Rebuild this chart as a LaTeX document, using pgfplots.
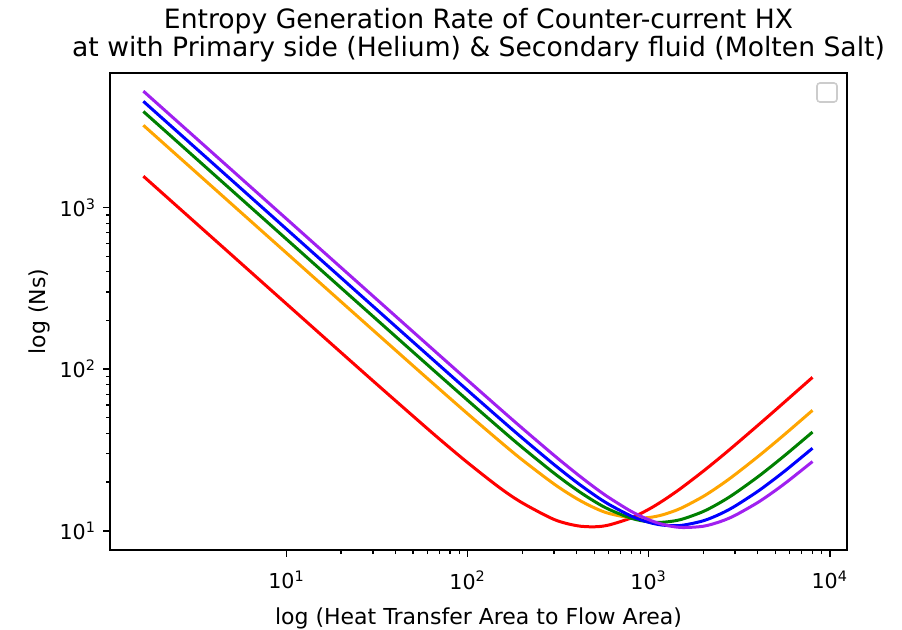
\documentclass[border=0pt]{standalone}
\usepackage{fontspec}
\setmainfont{DejaVu Sans}
\usepackage{pgfplots}
\pgfplotsset{compat=1.18}
\definecolor{mplorange}{HTML}{FFA500}
\definecolor{mplgreen}{HTML}{008000}
\definecolor{mplpurple}{RGB}{160,32,240}
\begin{document}
\begin{tikzpicture}
\begin{axis}[
  scale only axis,
  width=368.5pt, height=238.5pt,
  xmode=log, ymode=log,
  xmin=1.06, xmax=12450,
  ymin=7.6, ymax=6800,
  axis line style={line width=0.8pt},
  tick align=outside,
  tick pos=left,
  major tick length=3.5pt,
  minor tick length=2pt,
  every tick/.style={black, line width=0.8pt},
  minor tick style={line width=0.6pt},
  xtick={10,100,1000,10000},
  xticklabels={10\textsuperscript{1},10\textsuperscript{2},10\textsuperscript{3},10\textsuperscript{4}},
  ytick={10,100,1000},
  yticklabels={10\textsuperscript{1},10\textsuperscript{2},10\textsuperscript{3}},
  tick label style={font=\fontsize{10.3}{12}\selectfont},
  xticklabel style={yshift=-3.5pt},
  xlabel={log (Heat Transfer Area to Flow Area)},
  ylabel={log (Ns)},
  label style={font=\fontsize{11}{13}\selectfont},
  xlabel style={at={(axis description cs:0.5,-0.1426)}, anchor=center},
  ylabel style={at={(axis description cs:-0.096,0.5)}, anchor=center},
  title={Entropy Generation Rate of Counter-current HX\\at with Primary side (Helium) \& Secondary fluid (Molten Salt)},
  title style={at={(axis description cs:0.5,1)}, anchor=south, align=center, inner sep=0pt, yshift=-0.5pt, font=\fontsize{13.3}{14}\selectfont},
  every axis plot/.append style={line width=1.5pt, smooth, no markers},
]
\addplot[red] coordinates {
(1.62,1563) (2,1266) (3,844) (5,506.5) (7,361.8) (10,253.3) (20,126.8) (30,84.7) (50,51.2) (70,36.9) (100,26.4) (150,18.5) (200,14.9) (300,11.75) (400,10.75) (500,10.58) (600,10.84) (800,12.0) (1000,13.57) (1200,15.36) (1500,18.25) (2000,23.35) (2500,28.6) (3000,33.96) (4000,44.8) (5000,55.7) (6000,66.7) (8030,88.97)
};
\addplot[mplorange] coordinates {
(1.62,3228) (2,2614.5) (3,1743) (5,1045.8) (7,747.0) (10,523.0) (20,261.6) (30,174.5) (50,104.9) (70,75.2) (100,52.97) (150,35.9) (200,27.5) (300,19.48) (400,15.81) (500,13.88) (600,12.82) (800,12.01) (1000,12.07) (1200,12.57) (1500,13.75) (2000,16.30) (2500,19.20) (3000,22.27) (4000,28.68) (5000,35.26) (6000,41.93) (8030,55.60)
};
\addplot[mplgreen] coordinates {
(1.62,3930) (2,3183.5) (3,2122.3) (5,1273.4) (7,909.6) (10,636.75) (20,318.45) (30,212.4) (50,127.6) (70,91.3) (100,64.17) (150,43.2) (200,32.83) (300,22.72) (400,17.91) (500,15.23) (600,13.60) (800,11.95) (1000,11.35) (1200,11.29) (1500,11.72) (2000,13.15) (2500,15.01) (3000,17.07) (4000,21.52) (5000,26.19) (6000,30.96) (8030,40.80)
};
\addplot[blue] coordinates {
(1.62,4540) (2,3677.5) (3,2451.7) (5,1471.0) (7,1050.7) (10,735.54) (20,367.83) (30,245.29) (50,147.3) (70,105.34) (100,73.94) (150,49.62) (200,37.56) (300,25.69) (400,19.96) (500,16.67) (600,14.61) (800,12.33) (1000,11.28) (1200,10.83) (1500,10.78) (2000,11.52) (2500,12.74) (3000,14.21) (4000,17.52) (5000,21.07) (6000,24.75) (8030,32.40)
};
\addplot[mplpurple] coordinates {
(1.62,5250) (2,4252.5) (3,2835) (5,1701) (7,1215.0) (10,850.53) (20,425.31) (30,283.6) (50,170.26) (70,121.72) (100,85.37) (150,57.18) (200,43.17) (300,29.31) (400,22.54) (500,18.61) (600,16.10) (800,13.19) (1000,11.71) (1200,10.94) (1500,10.48) (2000,10.66) (2500,11.42) (3000,12.45) (4000,14.95) (5000,17.73) (6000,20.66) (8030,26.80)
};
\coordinate (bl) at (rel axis cs:0,0);
\coordinate (tr) at (rel axis cs:1,1);
\end{axis}
\draw[black!20, line width=0.8pt, rounded corners=1.5pt] ([xshift=-5pt,yshift=-5pt]tr) rectangle ([xshift=-15pt,yshift=-14.5pt]tr);
\pgfresetboundingbox
\path ([xshift=-55pt,yshift=-39.5pt]bl) rectangle ([xshift=27.5pt,yshift=36.5pt]tr);
\end{tikzpicture}
\end{document}
